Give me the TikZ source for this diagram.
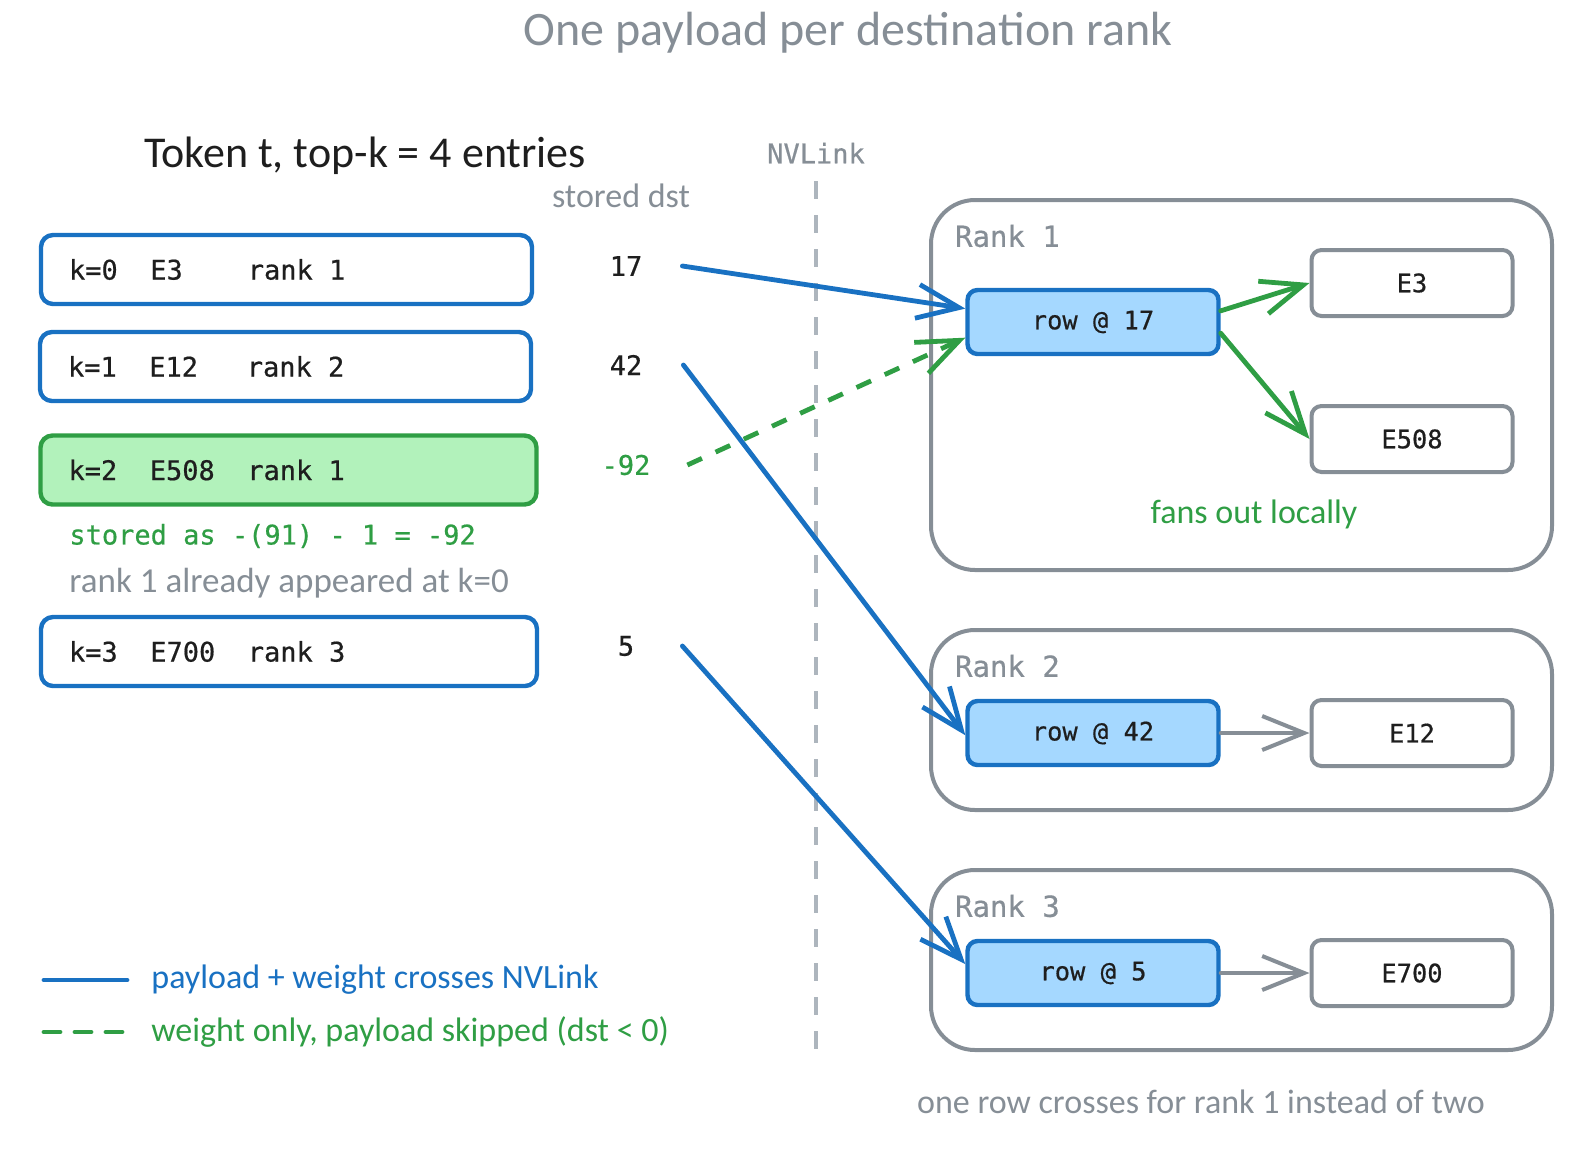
\documentclass[tikz,border=0pt]{standalone}
\usepackage{fontspec}
\setmainfont{Carlito}
\setmonofont[FakeBold=0.6]{DejaVu Sans Mono}
\usepackage{tikz}
\usetikzlibrary{arrows.meta, positioning}
\definecolor{ink}{HTML}{1E1E1E}
\definecolor{exblue}{HTML}{1971C2}
\definecolor{exbluefill}{HTML}{A5D8FF}
\definecolor{exgreen}{HTML}{2F9E44}
\definecolor{exgreenfill}{HTML}{B2F2BB}
\definecolor{exgray}{HTML}{868E96}
\definecolor{exdash}{HTML}{ADB5BD}
\newcommand{\blank}{\hphantom{0}}

\begin{document}
\begin{tikzpicture}[
    x=0.5pt, y=-0.5pt,
    >={Straight Barb[length=21pt, width=17pt]},
    hand/.style={font=\fontsize{#1}{#1}\selectfont},
    entry/.style={draw=exblue, line width=2.2pt, rounded corners=6pt, minimum height=34.5pt, inner xsep=14pt, text width=217.5pt, align=left, text=ink, font=\ttfamily\fontsize{13.5pt}{16pt}\selectfont},
    dst/.style={minimum width=30pt, inner sep=0pt, text=ink, font=\ttfamily\fontsize{13.5pt}{16pt}\selectfont},
    panel/.style={draw=exgray, line width=2pt, rounded corners=22pt},
    ranklabel/.style={anchor=west, text=exgray, font=\ttfamily\fontsize{14.5pt}{17pt}\selectfont},
    rowbox/.style={draw=exblue, fill=exbluefill, line width=2.2pt, rounded corners=5pt, minimum width=125.5pt, minimum height=32pt, text=ink, font=\ttfamily\fontsize{12.7pt}{15pt}\selectfont},
    expert/.style={draw=exgray, fill=white, line width=2pt, rounded corners=5pt, minimum width=100.5pt, minimum height=33pt, text=ink, font=\ttfamily\fontsize{12.7pt}{15pt}\selectfont},
    payload/.style={draw=exblue, line width=2.4pt, line cap=round},
    skip/.style={draw=exgreen, line width=2.4pt, dash pattern=on 8pt off 7.5pt},
    fanout/.style={draw=exgreen, line width=2.4pt, line cap=round},
    local/.style={draw=exgray, line width=2pt, line cap=round},
]
    \useasboundingbox (0,0) rectangle (1596,1148);

    % Titles
    \node[hand=24pt, text=exgray] (title) at (848,33) {One payload per destination rank};
    \node[hand=22pt, text=ink] (token) at (365,156) {Token t, top-k = 4 entries};
    \node[hand=17pt, text=exgray] (dsthead) at (621,196) {stored dst};
    \node[text=exgray, font=\ttfamily\fontsize{13.5pt}{16pt}\selectfont] (nvlink) at (816,153) {NVLink};

    % NVLink divider
    \draw[exdash, line width=2pt, dash pattern=on 9pt off 8pt] (816,181) -- (816,1052);

    % Top-k entries
    \node[entry] (k0) at (286.5,269.5) {k=0\blank\blank E3\blank\blank\blank\blank rank\blank 1};
    \node[entry] (k1) at (285.5,366.5) {k=1\blank\blank E12\blank\blank\blank rank\blank 2};
    \node[entry, draw=exgreen, fill=exgreenfill, text width=220pt] (k2) at (288.5,470) {k=2\blank\blank E508\blank\blank rank\blank 1};
    \node[entry, text width=220pt] (k3) at (289,651.5) {k=3\blank\blank E700\blank\blank rank\blank 3};

    % Notes under k=2
    \node[anchor=west, inner sep=0pt, text=exgreen, font=\ttfamily\fontsize{13.5pt}{16pt}\selectfont] (storedas) at (69,536) {stored as -(91) - 1 = -92};
    \node[anchor=west, inner sep=0pt, hand=17.5pt, text=exgray] (already) at (69,583) {rank 1 already appeared at k=0};

    % Stored dst values
    \node[dst] (d17) at (626,266) {17};
    \node[dst] (d42) at (626,365) {42};
    \node[dst, text=exgreen] (d92) at (626,465) {-92};
    \node[dst] (d5) at (626,646) {5};
    \coordinate[right=13pt of d17] (s17);
    \coordinate[right=13.5pt of d42] (s42);
    \coordinate[right=15.5pt of d92] (s92);
    \coordinate[right=13pt of d5] (s5);

    % Rank panels
    \node[panel, minimum width=310.5pt, minimum height=185pt] (rank1) at (1241.5,385) {};
    \node[panel, minimum width=310.5pt, minimum height=90pt] (rank2) at (1241.5,720) {};
    \node[panel, minimum width=310.5pt, minimum height=90pt] (rank3) at (1241.5,960) {};
    \node[ranklabel] (lab1) at (948,236) {Rank 1};
    \node[ranklabel] (lab2) at (948,666) {Rank 2};
    \node[ranklabel] (lab3) at (948,906) {Rank 3};

    % Received rows and experts
    \node[rowbox] (row17) at (1093,322) {row @ 17};
    \node[rowbox] (row42) at (1093,733) {row @ 42};
    \node[rowbox] (row5) at (1093,973) {row @ 5};
    \node[expert] (e3) at (1412,283) {E3};
    \node[expert] (e508) at (1412,439) {E508};
    \node[expert] (e12) at (1412,733) {E12};
    \node[expert] (e700) at (1412,973) {E700};
    \node[hand=17pt, text=exgreen] (fans) at (1254,514) {fans out locally};

    % Transfers over NVLink
    \draw[payload, ->] (s17) -- (row17.174);
    \draw[skip, ->] (s92) -- (row17.187);
    \draw[payload, ->] (s42) -- (row42.181);
    \draw[payload, ->] (s5) -- (row5.176);

    % Local fan-out
    \draw[fanout, ->] (row17.5) -- (e3.west);
    \draw[fanout, ->] (row17.-5) -- (e508.west);
    \draw[local, ->] (row42) -- (e12);
    \draw[local, ->] (row5) -- (e700);

    % Legend
    \draw[payload] (44,980) -- (127,980);
    \draw[skip, line cap=round] (44,1032) -- (127,1032);
    \node[anchor=west, inner sep=0pt, hand=17pt, text=exblue] (leg1) at (151,980) {payload + weight crosses NVLink};
    \node[anchor=west, inner sep=0pt, hand=17pt, text=exgreen] (leg2) at (151,1032) {weight only, payload skipped (dst < 0)};

    % Footnote
    \node[hand=17pt, text=exgray] (foot) at (1201,1102) {one row crosses for rank 1 instead of two};
\end{tikzpicture}
\end{document}
